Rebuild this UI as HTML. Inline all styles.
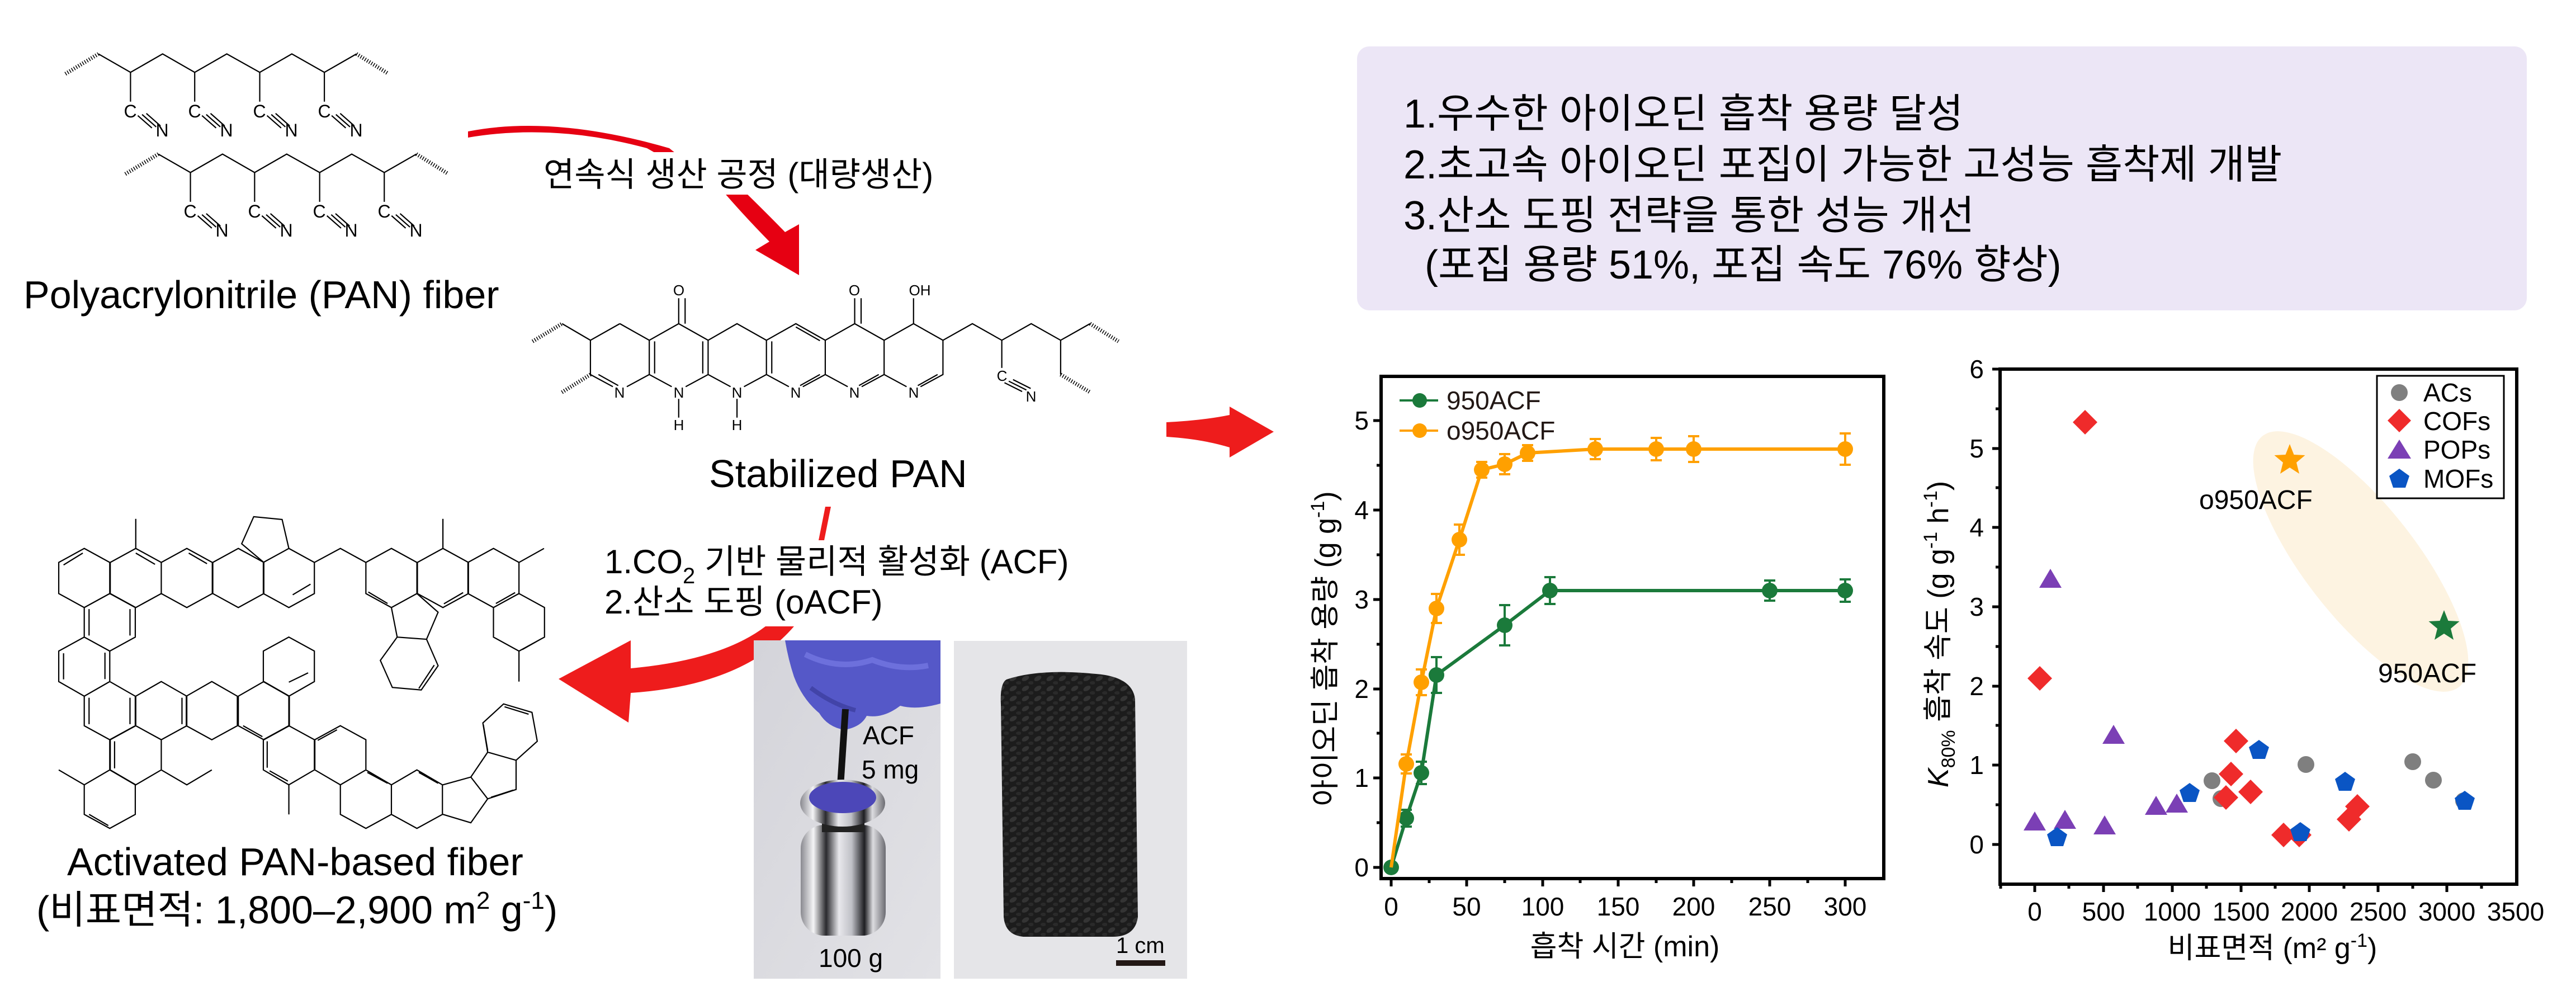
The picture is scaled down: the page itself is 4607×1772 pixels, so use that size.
<!DOCTYPE html>
<html><head><meta charset="utf-8"><style>
html,body{margin:0;padding:0;background:#fff;}
svg{display:block;}
text{font-family:"Liberation Sans","Noto Sans CJK KR",sans-serif;}
.k{font-family:"Liberation Sans","Noto Sans CJK KR",sans-serif;}
</style></head><body>
<svg width="4607" height="1772" viewBox="0 0 4607 1772" xmlns="http://www.w3.org/2000/svg">
<defs>
<linearGradient id="silver" x1="0" x2="1" y1="0" y2="0">
<stop offset="0" stop-color="#8a8a90"/><stop offset="0.15" stop-color="#f4f4f6"/><stop offset="0.3" stop-color="#2a2a2e"/><stop offset="0.45" stop-color="#e8e8ec"/><stop offset="0.6" stop-color="#bfc0c6"/><stop offset="0.75" stop-color="#1e1e22"/><stop offset="0.85" stop-color="#dcdce0"/><stop offset="1" stop-color="#6c6c72"/>
</linearGradient>
<linearGradient id="bg1" x1="0" x2="1" y1="0" y2="1"><stop offset="0" stop-color="#d4d4da"/><stop offset="1" stop-color="#e2e2e6"/></linearGradient>
<pattern id="knit" width="22" height="18" patternUnits="userSpaceOnUse"><rect width="22" height="18" fill="#1c1c1c"/><ellipse cx="8" cy="7" rx="7" ry="4" fill="#343434" transform="rotate(-30 8 7)"/><ellipse cx="18" cy="15" rx="5" ry="3" fill="#2a2a2a"/></pattern>
</defs>

<!-- ===== PAN chains ===== -->
<g transform="scale(0.7653,0.3827)" fill="none" stroke="#000" stroke-width="2.2" vector-effect="non-scaling-stroke">
 <g id="chain">
  <polyline points="230,252 305,338 380,252 455,338 530,252 607,338 682,252 758,338 833,252" vector-effect="non-scaling-stroke"/>
  <line x1="153" y1="345" x2="230" y2="252" stroke-width="7" stroke-dasharray="1.5 3" vector-effect="non-scaling-stroke"/>
  <line x1="833" y1="252" x2="908" y2="345" stroke-width="7" stroke-dasharray="1.5 3" vector-effect="non-scaling-stroke"/>
  <g vector-effect="non-scaling-stroke">
  <line x1="305" y1="338" x2="305" y2="475" vector-effect="non-scaling-stroke"/>
  <line x1="455" y1="338" x2="455" y2="475" vector-effect="non-scaling-stroke"/>
  <line x1="607" y1="338" x2="607" y2="475" vector-effect="non-scaling-stroke"/>
  <line x1="758" y1="338" x2="758" y2="475" vector-effect="non-scaling-stroke"/>
  <path d="M322,540 L355,598 M332,535 L365,593 M342,530 L375,588 M472,540 L505,598 M482,535 L515,593 M492,530 L525,588 M624,540 L657,598 M634,535 L667,593 M644,530 L677,588 M775,540 L808,598 M785,535 L818,593 M795,530 L828,588" vector-effect="non-scaling-stroke"/>
  </g>
 </g>
 <use href="#chain" transform="translate(140,468)"/>
</g>
<g font-size="32" text-anchor="middle">
 <text x="233" y="210">C</text><text x="290" y="244">N</text>
 <text x="348" y="210">C</text><text x="405" y="244">N</text>
 <text x="464" y="210">C</text><text x="521" y="244">N</text>
 <text x="580" y="210">C</text><text x="637" y="244">N</text>
 <text x="340" y="389">C</text><text x="397" y="423">N</text>
 <text x="455" y="389">C</text><text x="512" y="423">N</text>
 <text x="571" y="389">C</text><text x="628" y="423">N</text>
 <text x="687" y="389">C</text><text x="744" y="423">N</text>
</g>
<text x="42" y="551" font-size="70">Polyacrylonitrile (PAN) fiber</text>

<!-- ===== red arrow 1 ===== -->
<path d="M837,235 Q990,205 1197,265 L1293,342 L1331,342 Q1375,385 1404,415 L1429,401 L1429,492 L1351,447 L1376,432 Q1330,385 1293,342 L1157,265 Q990,220 837,246 Z" fill="#e60012"/>
<rect x="965" y="272" width="750" height="76" fill="#fff"/>
<text x="972" y="333" font-size="60" class="k">연속식 생산 공정 (대량생산)</text>

<!-- ===== Stabilized PAN ===== -->
<g transform="translate(900,300) scale(0.9567,0.3954)" fill="none" stroke="#000" stroke-width="2.2">
 <g vector-effect="non-scaling-stroke">
 <path vector-effect="non-scaling-stroke" d="
 M110,705 L163,780 L163,935 L205,990 M218,705 L163,780 M218,705 L273,780 L273,935 L231,990 M273,935 L315,990 M273,780 L328,705 L383,780 L383,935 L341,990 M383,935 L425,990 M383,780 L437,705 L492,780 L492,935 L450,990 M492,935 L534,990 M492,780 L547,705 L602,780 L602,935 L560,990 M602,935 L644,990 M602,780 L657,705 L712,780 L712,935 L670,990 M712,935 L754,990 M712,780 L767,705 L822,780 L822,935 L780,990
 M178,935 L215,985 M283,785 L283,930 M373,785 L373,930 M502,785 L502,930 M547,720 L592,782 M592,935 L555,985 M702,935 L665,985 M812,935 L775,985
 M822,780 L877,705 L932,780 L987,705 L1042,780 L1097,705 M932,780 L932,905 M1042,780 L1042,935
 M328,705 L328,590 M340,705 L340,590 M657,705 L657,590 M669,705 L669,590 M767,705 L767,590
 M328,1045 L328,1130 M437,1045 L437,1130
 M945,965 L978,1005 M953,958 L986,998 M937,972 L970,1012"/>
 <path vector-effect="non-scaling-stroke" stroke-width="7" stroke-dasharray="1.5 3" d="M55,785 L110,705 M163,935 L108,1018 M1097,705 L1150,785 M1042,935 L1097,1015"/>
 </g>
</g>
<g font-size="26" text-anchor="middle">
 <text x="1108" y="711">N</text><text x="1214" y="711">N</text><text x="1318" y="711">N</text>
 <text x="1423" y="711">N</text><text x="1528" y="711">N</text><text x="1634" y="711">N</text>
 <text x="1214" y="769">H</text><text x="1318" y="769">H</text>
 <text x="1214" y="528">O</text><text x="1528" y="528">O</text><text x="1645" y="528">OH</text>
 <text x="1792" y="681">C</text><text x="1844" y="718">N</text>
</g>
<text x="1268" y="871" font-size="70">Stabilized PAN</text>

<!-- small right arrow -->
<path d="M2086,755 Q2150,752 2199,742 L2199,727 L2278,772 L2199,818 L2199,800 Q2150,785 2086,781 Z" fill="#ee1c1c"/>

<!-- ===== left arrow 2 ===== -->
<path d="M1476,906 L1486,906 L1474,966 L1464,966 Z" fill="#ee1c1c"/>
<path d="M1369,1120 L1420,1120 Q1330,1225 1128,1239 L1124,1292 L999,1214 L1128,1145 L1128,1195 Q1290,1180 1369,1120 Z" fill="#ee1c1c"/>
<text x="1081" y="1025" font-size="60" class="k">1.CO<tspan font-size="40" dy="18">2</tspan><tspan dy="-18"> 기반 물리적 활성화 (ACF)</tspan></text>
<text x="1081" y="1097" font-size="60" class="k">2.산소 도핑 (oACF)</text>

<!-- ===== Activated fiber ===== -->
<g transform="translate(0,900) scale(0.861,0.5562)" fill="none" stroke="#000" stroke-width="2.2">
<path vector-effect="non-scaling-stroke" d="
M175,145 L228,190 L228,290 L175,335 L122,290 L122,190 Z
M282,145 L335,190 L335,290 L282,335 L229,290 L229,190 Z
M388,145 L441,190 L441,290 L388,335 L335,290 L335,190 Z
M495,145 L548,190 L548,290 L495,335 L442,290 L442,190 Z
M600,145 L653,190 L653,290 L600,335 L547,290 L547,190 Z
M813,145 L866,190 L866,290 L813,335 L760,290 L760,190 Z
M920,145 L973,190 L973,290 L920,335 L867,290 L867,190 Z
M1025,145 L1078,190 L1078,290 L1025,335 L972,290 L972,190 Z
M228,290 L281,335 L281,430 L228,475 L175,430 L175,335 Z
M1078,290 L1131,335 L1131,430 L1078,475 L1025,430 L1025,335 Z
M175,430 L228,475 L228,573 L175,620 L122,573 L122,475 Z
M600,430 L653,475 L653,573 L600,620 L547,573 L547,475 Z
M228,573 L281,620 L281,715 L228,760 L175,715 L175,620 Z
M335,573 L388,620 L388,715 L335,760 L282,715 L282,620 Z
M440,573 L493,620 L493,715 L440,760 L387,715 L387,620 Z
M548,573 L601,620 L601,715 L548,760 L495,715 L495,620 Z
M282,715 L335,760 L335,857 L282,905 L229,857 L229,760 Z
M600,715 L653,760 L653,857 L600,905 L547,857 L547,760 Z
M707,715 L760,760 L760,857 L707,905 L654,857 L654,760 Z
M228,857 L281,905 L281,1000 L228,1045 L175,1000 L175,905 Z
M760,857 L813,905 L813,1000 L760,1045 L707,1000 L707,905 Z
M866,857 L919,905 L919,1000 L866,1045 L813,1000 L813,905 Z
M548,190 L502,130 L527,43 L586,52 L600,145
M282,50 L282,145 M920,50 L920,145 M1078,190 L1130,145 M1078,475 L1078,573 M600,905 L600,1000
M122,857 L175,905 M335,857 L388,905 L440,857
M653,190 L707,145 L760,190
M813,335 L866,290 L910,350 L886,437 L825,430 Z
M825,430 L886,437 L910,522 L875,600 L815,592 L790,505 Z
M228,760 L228,857 M238,765 L238,852 M600,620 L600,715
M920,905 L978,880 L1013,950 L978,1027 L920,1000
M978,880 L1013,800 L1072,826 L1072,920 L1013,950
M1013,800 L1003,706 L1046,645 L1105,672 L1116,765 L1072,826
M132,198 L172,160 M282,160 L322,196 M392,160 L430,194 M185,340 L185,425 M270,340 L270,425 M132,482 L132,566 M218,480 L218,565
M185,625 L185,710 M270,625 L270,710 M378,625 L378,710 M505,715 L545,750 M555,765 L555,850 M560,860 L598,893 M660,762 L700,728 M763,865 L805,900 M870,865 L910,900
M608,294 L645,260 M765,285 L805,322 M922,323 L962,287 M1030,322 L1070,287 M1085,470 L1125,435 M185,1000 L225,1036 M600,575 L640,545 M1020,945 L1066,922 M1013,795 L1004,712 M1048,654 L1098,678
M870,595 L902,520 M505,715 L545,750"/>
</g>
<text x="120" y="1565" font-size="70">Activated PAN-based fiber</text>
<text x="65" y="1651" font-size="70" class="k">(비표면적: 1,800–2,900 m<tspan font-size="44" dy="-26">2</tspan><tspan dy="26"> g</tspan><tspan font-size="44" dy="-26">-1</tspan><tspan dy="26">)</tspan></text>

<!-- ===== Photos ===== -->
<rect x="1348" y="1145" width="334" height="605" fill="url(#bg1)"/>
<path d="M1404,1145 L1682,1145 L1682,1258 Q1640,1270 1610,1262 Q1580,1285 1550,1280 Q1540,1300 1510,1305 Q1480,1300 1465,1275 Q1435,1250 1420,1210 Q1410,1180 1404,1145 Z" fill="#5558c8"/>
<path d="M1440,1170 Q1500,1200 1560,1180 Q1610,1200 1660,1190" stroke="#6d70dc" stroke-width="10" fill="none"/>
<path d="M1450,1230 Q1490,1260 1530,1270" stroke="#4244a8" stroke-width="8" fill="none"/>
<line x1="1512" y1="1268" x2="1503" y2="1405" stroke="#111" stroke-width="12"/>
<rect x="1432" y="1475" width="152" height="198" rx="42" fill="url(#silver)"/>
<rect x="1470" y="1460" width="76" height="28" fill="#222"/>
<ellipse cx="1507" cy="1436" rx="76" ry="42" fill="url(#silver)"/>
<ellipse cx="1507" cy="1426" rx="60" ry="28" fill="#4c47b8"/>
<text x="1543" y="1331" font-size="46">ACF</text>
<text x="1541" y="1392" font-size="46">5 mg</text>
<text x="1464" y="1729" font-size="46">100 g</text>

<rect x="1706" y="1146" width="417" height="604" fill="#e5e5e8"/>
<path d="M1800,1215 Q1860,1195 1960,1205 Q2025,1210 2030,1250 L2035,1640 Q2030,1675 1990,1675 L1830,1675 Q1798,1672 1795,1640 L1790,1260 Q1788,1222 1800,1215 Z" fill="url(#knit)"/>
<text x="1996" y="1704" font-size="40">1 cm</text>
<rect x="1996" y="1717" width="88" height="10" fill="#231815"/>

<!-- ===== Purple box ===== -->
<rect x="2427" y="83" width="2092" height="472" rx="22" fill="#ece6f6"/>
<g font-size="72" class="k">
<text x="2510" y="228">1.우수한 아이오딘 흡착 용량 달성</text>
<text x="2510" y="319">2.초고속 아이오딘 포집이 가능한 고성능 흡착제 개발</text>
<text x="2510" y="410">3.산소 도핑 전략을 통한 성능 개선</text>
<text x="2548" y="498">(포집 용량 51%, 포집 속도 76% 향상)</text>
</g>

<!-- ===== Chart 1 ===== -->
<g stroke="#000" stroke-width="6" fill="none">
<rect x="2470" y="673" width="899" height="898"/>
<path d="M2470,1551 h-14 M2470,1391 h-14 M2470,1232 h-14 M2470,1072 h-14 M2470,912 h-14 M2470,752 h-14 M2470,1471 h-8 M2470,1311 h-8 M2470,1152 h-8 M2470,992 h-8 M2470,832 h-8
M2488,1571 v14 M2623,1571 v14 M2759,1571 v14 M2894,1571 v14 M3029,1571 v14 M3165,1571 v14 M3300,1571 v14 M2556,1571 v8 M2691,1571 v8 M2826,1571 v8 M2962,1571 v8 M3097,1571 v8 M3233,1571 v8" stroke-width="5"/>
</g>
<g font-size="46" text-anchor="end">
<text x="2448" y="1567">0</text><text x="2448" y="1407">1</text><text x="2448" y="1248">2</text><text x="2448" y="1088">3</text><text x="2448" y="928">4</text><text x="2448" y="768">5</text>
</g>
<g font-size="46" text-anchor="middle">
<text x="2488" y="1637">0</text><text x="2623" y="1637">50</text><text x="2759" y="1637">100</text><text x="2894" y="1637">150</text><text x="3029" y="1637">200</text><text x="3165" y="1637">250</text><text x="3300" y="1637">300</text>
</g>
<text x="2906" y="1710" font-size="52" text-anchor="middle" class="k">흡착 시간 (min)</text>
<text transform="translate(2388,1160) rotate(-90)" font-size="52" text-anchor="middle" class="k">아이오딘 흡착 용량 (g g<tspan font-size="34" dy="-20">-1</tspan><tspan dy="20">)</tspan></text>
<g stroke="#1b7a3b" stroke-width="4" fill="none">
<path d="M2515,1448 v30 M2505,1448 h20 M2505,1478 h20 M2542,1362 v40 M2532,1362 h20 M2532,1402 h20 M2569,1175 v64 M2559,1175 h20 M2559,1239 h20 M2691,1082 v72 M2681,1082 h20 M2681,1154 h20 M2772,1032 v48 M2762,1032 h20 M2762,1080 h20 M3165,1038 v36 M3155,1038 h20 M3155,1074 h20 M3300,1036 v40 M3290,1036 h20 M3290,1076 h20"/>
<polyline stroke-width="6" points="2488,1551 2515,1463 2542,1382 2569,1207 2691,1118 2772,1056 3165,1056 3300,1056"/>
</g>
<g fill="#1b7a3b">
<circle cx="2488" cy="1551" r="14"/><circle cx="2515" cy="1463" r="14"/><circle cx="2542" cy="1382" r="14"/><circle cx="2569" cy="1207" r="14"/><circle cx="2691" cy="1118" r="14"/><circle cx="2772" cy="1056" r="14"/><circle cx="3165" cy="1056" r="14"/><circle cx="3300" cy="1056" r="14"/>
</g>
<g stroke="#ffa000" stroke-width="4" fill="none">
<path d="M2515,1349 v34 M2505,1349 h20 M2505,1383 h20 M2542,1197 v46 M2532,1197 h20 M2532,1243 h20 M2569,1062 v52 M2559,1062 h20 M2559,1114 h20 M2610,938 v54 M2600,938 h20 M2600,992 h20 M2650,826 v28 M2640,826 h20 M2640,854 h20 M2691,812 v36 M2681,812 h20 M2681,848 h20 M2732,796 v28 M2722,796 h20 M2722,824 h20 M2853,785 v36 M2843,785 h20 M2843,821 h20 M2962,783 v40 M2952,783 h20 M2952,823 h20 M3029,780 v46 M3019,780 h20 M3019,826 h20 M3300,775 v56 M3290,775 h20 M3290,831 h20"/>
<polyline stroke-width="6" points="2488,1551 2515,1366 2542,1220 2569,1088 2610,965 2650,840 2691,830 2732,810 2853,803 2962,803 3029,803 3300,803"/>
</g>
<g fill="#ffa000">
<circle cx="2515" cy="1366" r="14"/><circle cx="2542" cy="1220" r="14"/><circle cx="2569" cy="1088" r="14"/><circle cx="2610" cy="965" r="14"/><circle cx="2650" cy="840" r="14"/><circle cx="2691" cy="830" r="14"/><circle cx="2732" cy="810" r="14"/><circle cx="2853" cy="803" r="14"/><circle cx="2962" cy="803" r="14"/><circle cx="3029" cy="803" r="14"/><circle cx="3300" cy="803" r="14"/>
</g>
<line x1="2503" y1="716" x2="2572" y2="716" stroke="#1b7a3b" stroke-width="4"/><circle cx="2539" cy="716" r="13" fill="#1b7a3b"/>
<line x1="2503" y1="770" x2="2572" y2="770" stroke="#ffa000" stroke-width="4"/><circle cx="2539" cy="770" r="13" fill="#ffa000"/>
<text x="2587" y="732" font-size="46" fill="#231815">950ACF</text>
<text x="2587" y="786" font-size="46" fill="#231815">o950ACF</text>

<!-- ===== Chart 2 ===== -->
<ellipse cx="4222" cy="1004" rx="285" ry="100" transform="rotate(52 4222 1004)" fill="#fdf3e1"/>
<g stroke="#000" stroke-width="6" fill="none">
<rect x="3577" y="660" width="924" height="921"/>
<path d="M3577,1510 h-14 M3577,1368 h-14 M3577,1227 h-14 M3577,1085 h-14 M3577,943 h-14 M3577,802 h-14 M3577,660 h-14 M3577,1439 h-8 M3577,1297 h-8 M3577,1156 h-8 M3577,1014 h-8 M3577,872 h-8 M3577,731 h-8
M3639,1581 v14 M3762,1581 v14 M3885,1581 v14 M4008,1581 v14 M4130,1581 v14 M4253,1581 v14 M4376,1581 v14 M3578,1581 v8 M3700,1581 v8 M3823,1581 v8 M3946,1581 v8 M4069,1581 v8 M4192,1581 v8 M4315,1581 v8 M4438,1581 v8" stroke-width="5"/>
</g>
<g font-size="46" text-anchor="end">
<text x="3548" y="1526">0</text><text x="3548" y="1384">1</text><text x="3548" y="1243">2</text><text x="3548" y="1101">3</text><text x="3548" y="959">4</text><text x="3548" y="818">5</text><text x="3548" y="676">6</text>
</g>
<g font-size="46" text-anchor="middle">
<text x="3639" y="1646">0</text><text x="3762" y="1646">500</text><text x="3885" y="1646">1000</text><text x="4008" y="1646">1500</text><text x="4130" y="1646">2000</text><text x="4253" y="1646">2500</text><text x="4376" y="1646">3000</text><text x="4499" y="1646">3500</text>
</g>
<text x="4064" y="1713" font-size="52" text-anchor="middle" class="k">비표면적 (m² g<tspan font-size="34" dy="-20">-1</tspan><tspan dy="20">)</tspan></text>
<text transform="translate(3484,1134) rotate(-90)" font-size="52" text-anchor="middle" class="k"><tspan font-style="italic">K</tspan><tspan font-size="34" dy="12">80%</tspan><tspan dy="-12"> 흡착 속도 (g g</tspan><tspan font-size="34" dy="-20">-1</tspan><tspan dy="20"> h</tspan><tspan font-size="34" dy="-20">-1</tspan><tspan dy="20">)</tspan></text>
<g fill="#7f7f7f">
<circle cx="3956" cy="1396" r="15"/><circle cx="3972" cy="1428" r="15"/><circle cx="4124" cy="1367" r="15"/><circle cx="4315" cy="1362" r="15"/><circle cx="4352" cy="1395" r="15"/><circle cx="4406" cy="1432" r="15"/>
</g>
<g fill="#ef2b2b">
<path d="M3729,733 l22,22 l-22,22 l-22,-22 Z M3648,1191 l22,22 l-22,22 l-22,-22 Z M3981,1404 l22,22 l-22,22 l-22,-22 Z M3999,1303 l22,22 l-22,22 l-22,-22 Z M4025,1394 l22,22 l-22,22 l-22,-22 Z M4084,1471 l22,22 l-22,22 l-22,-22 Z M4112,1471 l22,22 l-22,22 l-22,-22 Z M4201,1443 l22,22 l-22,22 l-22,-22 Z M4216,1420 l22,22 l-22,22 l-22,-22 Z M3990,1362 l22,22 l-22,22 l-22,-22 Z"/>
</g>
<g fill="#7b3fb5">
<path d="M3667,1017 l20,34 h-40 Z M3639,1451 l20,34 h-40 Z M3693,1448 l20,34 h-40 Z M3764,1458 l20,34 h-40 Z M3780,1296 l20,34 h-40 Z M3856,1423 l20,34 h-40 Z M3893,1419 l20,34 h-40 Z"/>
</g>
<g fill="#0a55c4">
<path d="M3679,1479 l18,13 l-7,21 h-22 l-7,-21 Z M3916,1400 l18,13 l-7,21 h-22 l-7,-21 Z M4040,1323 l18,13 l-7,21 h-22 l-7,-21 Z M4114,1470 l18,13 l-7,21 h-22 l-7,-21 Z M4194,1380 l18,13 l-7,21 h-22 l-7,-21 Z M4408,1414 l18,13 l-7,21 h-22 l-7,-21 Z"/>
</g>
<path d="M4095,794 l7.5,19 l20,1 l-15.5,13 l5,20 l-17,-11 l-17,11 l5,-20 l-15.5,-13 l20,-1 Z" fill="#ffa000"/>
<path d="M4371,1091 l7.5,19 l20,1 l-15.5,13 l5,20 l-17,-11 l-17,11 l5,-20 l-15.5,-13 l20,-1 Z" fill="#1b7a3b"/>
<text x="3933" y="910" font-size="48">o950ACF</text>
<text x="4253" y="1220" font-size="48">950ACF</text>
<rect x="4251" y="672" width="227" height="219" fill="#fff" stroke="#000" stroke-width="3"/>
<circle cx="4291" cy="702" r="15" fill="#7f7f7f"/>
<path d="M4291,731 l21,21 l-21,21 l-21,-21 Z" fill="#ef2b2b"/>
<path d="M4291,786 l21,34 h-42 Z" fill="#7b3fb5"/>
<path d="M4291,838 l18,13 l-7,21 h-22 l-7,-21 Z" fill="#0a55c4"/>
<g font-size="46"><text x="4334" y="718">ACs</text><text x="4334" y="769">COFs</text><text x="4334" y="820">POPs</text><text x="4334" y="872">MOFs</text></g>
</svg>
</body></html>
